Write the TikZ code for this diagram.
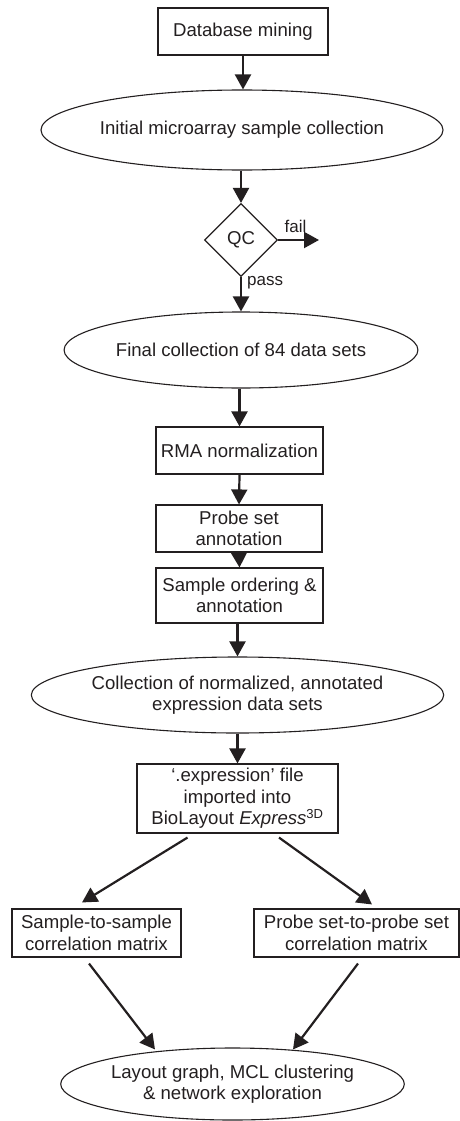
\documentclass[tikz,border=0pt]{standalone}
\usepackage{fontspec}
\setmainfont{Liberation Sans}
\usetikzlibrary{shapes.geometric,arrows.meta,calc}
\definecolor{ink}{HTML}{231F20}
\tikzset{
  every node/.style={font=\fontsize{18.6}{21.5}\selectfont, text=ink, align=center, inner sep=0pt},
  stepbox/.style={draw=ink, line width=1.1pt, rectangle},
  oval/.style={draw=ink, line width=1.1pt, ellipse},
  decide/.style={draw=ink, line width=1.1pt, diamond, shape aspect=1},
  flow/.style={draw=ink, line width=2.2pt, -{Triangle[length=15pt,width=16pt]}},
  lbl/.style={font=\fontsize{17}{20}\selectfont}
}
\begin{document}
\begin{tikzpicture}[x=1pt,y=-1pt]
\useasboundingbox (0,0) rectangle (460,1121);
\node[stepbox, minimum width=170pt, minimum height=47pt] (db) at (243,31.5) {Database mining};
\node[oval, minimum width=325pt, minimum height=80pt] (init) at (242,130) {Initial microarray sample collection};
\node[decide, minimum size=73pt] (qc) at (241,240) {QC};
\coordinate (failend) at (319,240);
\node[oval, minimum width=326pt, minimum height=76pt] (final) at (241,350) {Final collection of 84 data sets};
\node[stepbox, minimum width=167pt, minimum height=47pt] (rma) at (239.5,450.5) {RMA normalization};
\node[stepbox, minimum width=166pt, minimum height=47pt] (probe) at (239,528.5) {Probe set\\annotation};
\node[stepbox, minimum width=167pt, minimum height=55pt] (sord) at (239.5,595.5) {Sample ordering \&\\annotation};
\node[oval, minimum width=325pt, minimum height=76pt] (coll) at (237.5,695) {Collection of normalized, annotated\\expression data sets};
\node[stepbox, minimum width=201pt, minimum height=69pt] (expr) at (237.5,798.5) {‘.expression’ file\\imported into\\BioLayout \textit{Express}\textsuperscript{3D}};
\node[stepbox, minimum width=169pt, minimum height=48pt] (s2s) at (96.5,933) {Sample-to-sample\\correlation matrix};
\node[stepbox, minimum width=205pt, minimum height=48pt] (p2p) at (356.5,933) {Probe set-to-probe set\\correlation matrix};
\node[oval, minimum width=325pt, minimum height=72pt] (layout) at (232.5,1084) {Layout graph, MCL clustering\\\& network exploration};

\draw[flow] (db.south) -- (db.south |- init.north);
\draw[flow] (qc.north |- init.south) -- (qc.north);
\draw[flow] (qc.east) -- node[lbl, above=6pt, xshift=-3pt] {fail} (failend);
\draw[flow] (qc.south) -- (qc.south |- final.north);
\node[lbl, anchor=west] (passlbl) at (247,283) {pass};
\draw[flow] (final.south -| rma.north) -- (rma.north);
\draw[flow] (rma.south) -- (probe.north);
\draw[flow] (probe.south) -- (sord.north);
\draw[flow] (sord.south -| coll.north) -- (coll.north);
\draw[flow] (coll.south) -- (expr.north);
\draw[flow] ([xshift=-50pt,yshift=-4pt]expr.south) -- ([xshift=-14.5pt,yshift=6pt]s2s.north);
\draw[flow] ([xshift=41.5pt,yshift=-4pt]expr.south) -- ([xshift=15.5pt,yshift=4pt]p2p.north);
\draw[flow] ([xshift=-7.5pt,yshift=-6pt]s2s.south) -- ([xshift=-77.5pt,yshift=-2pt]layout.north);
\draw[flow] ([xshift=1.5pt,yshift=-6pt]p2p.south) -- ([xshift=60.5pt,yshift=-2pt]layout.north);
\end{tikzpicture}
\end{document}
